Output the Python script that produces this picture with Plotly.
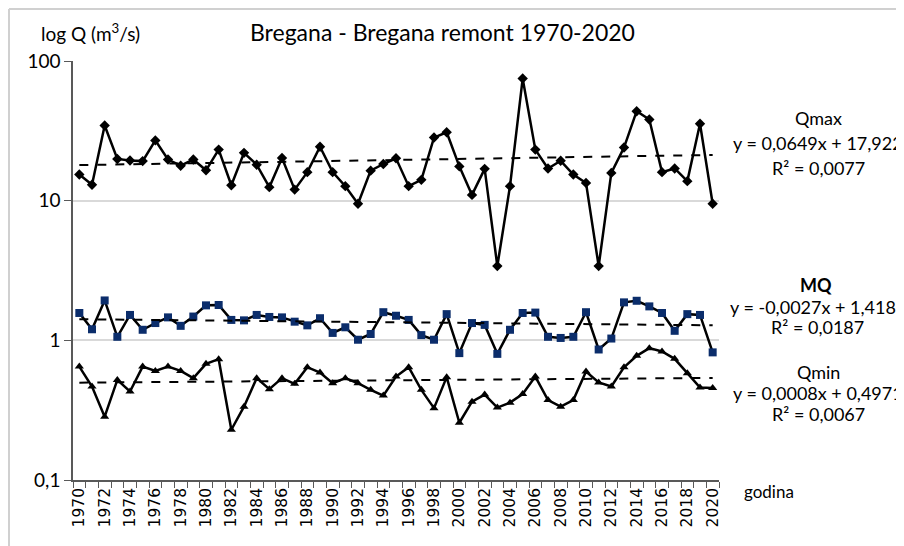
import plotly.graph_objects as go

# Podaci: Bregana - Bregana remont, 1970-2020
godine = list(range(1970, 2021))

q_max = [15.4, 13.0, 34.5, 19.9, 19.4, 19.2, 27.0, 19.7, 17.8, 19.7,
         16.5, 23.2, 12.9, 22.0, 18.1, 12.5, 20.2, 12.0, 16.0, 24.3,
         16.0, 12.7, 9.5, 16.4, 18.3, 20.1, 12.7, 14.1, 28.3, 30.9,
         17.6, 11.0, 16.9, 3.4, 12.7, 74.9, 23.2, 17.0, 19.3, 15.4,
         13.4, 3.4, 15.8, 24.0, 43.7, 38.1, 16.0, 17.0, 13.8, 35.5,
         9.5]

mq = [1.57, 1.20, 1.93, 1.06, 1.52, 1.19, 1.33, 1.46, 1.27, 1.48,
      1.78, 1.79, 1.40, 1.39, 1.52, 1.47, 1.46, 1.36, 1.28, 1.44,
      1.13, 1.24, 1.01, 1.11, 1.59, 1.50, 1.40, 1.09, 1.01, 1.54,
      0.81, 1.33, 1.29, 0.80, 1.19, 1.57, 1.58, 1.06, 1.04, 1.06,
      1.59, 0.86, 1.03, 1.87, 1.92, 1.75, 1.57, 1.17, 1.54, 1.52,
      0.82]

q_min = [0.649, 0.467, 0.284, 0.521, 0.430, 0.649, 0.604, 0.649, 0.604, 0.536,
         0.679, 0.733, 0.229, 0.335, 0.536, 0.447, 0.536, 0.488, 0.642, 0.588,
         0.493, 0.536, 0.493, 0.442, 0.402, 0.550, 0.642, 0.442, 0.327, 0.545,
         0.257, 0.364, 0.409, 0.330, 0.358, 0.413, 0.550, 0.374, 0.335, 0.374,
         0.598, 0.499, 0.467, 0.642, 0.774, 0.879, 0.832, 0.737, 0.582, 0.459,
         0.455]

# Linearni trend (Excel): y = a*x + b, x = 1..51
trend_qmax = (0.0649, 17.922)
trend_mq = (-0.0027, 1.4188)
trend_qmin = (0.0008, 0.4971)

y_tick_vals = [0.1, 1, 10, 100]
y_tick_text = ["0,1", "1", "10", "100"]
x_tick_vals = godine[::2]
x_tick_text = [str(g) for g in x_tick_vals]

# stranica ima 8 px margine, pa je graf pomaknut
OFF = 8
W, H = 904 - OFF, 546 - OFF
L, R, T, B = 73 - OFF, 719 - OFF, 61 - OFF, 480 - OFF
NAVY = "#0b2d6b"
TXT = "Lato, Calibri, sans-serif"


def px(x, y):
    """piksel (na stranici) -> paper koordinate"""
    x, y = x - OFF, y - OFF
    return (x - L) / (R - L), (B - y) / (B - T)


def trend(coef):
    a, b = coef
    return [a * (i + 1) + b for i in range(len(godine))]


fig = go.Figure()

fig.add_trace(go.Scatter(
    x=godine, y=q_max, mode="lines+markers", name="Qmax",
    line=dict(color="black", width=2.5),
    marker=dict(symbol="diamond", size=8, color="black"),
))
fig.add_trace(go.Scatter(
    x=godine, y=mq, mode="lines+markers", name="MQ",
    line=dict(color="black", width=2.5),
    marker=dict(symbol="square", size=8, color=NAVY),
))
fig.add_trace(go.Scatter(
    x=godine, y=q_min, mode="lines+markers", name="Qmin",
    line=dict(color="black", width=2.5),
    marker=dict(symbol="triangle-up", size=8, color="black"),
))
for coef in (trend_qmax, trend_mq, trend_qmin):
    fig.add_trace(go.Scatter(
        x=godine, y=trend(coef), mode="lines",
        line=dict(color="black", width=2, dash="dash"),
        hoverinfo="skip",
    ))

# tekstovi
annotations = []


def add_text(text, x, y, size=18, bold=False, xanchor="center"):
    ax, ay = px(x, y)
    if bold:
        text = "<b>" + text + "</b>"
    annotations.append(dict(
        text=text, x=ax, y=ay, xref="paper", yref="paper",
        xanchor=xanchor, yanchor="middle", showarrow=False,
        font=dict(family=TXT, size=size, color="black"),
    ))


add_text("Bregana - Bregana remont 1970-2020", 443, 32, size=23)
add_text("log Q (m<sup>3</sup>/s)", 39, 32, size=19, xanchor="left")
add_text("godina", 769, 492, size=17)

add_text("Qmax", 818, 118)
add_text("y = 0,0649x + 17,922", 818, 143)
add_text("R² = 0,0077", 818, 168)
add_text("MQ", 816, 285, bold=True)
add_text("y = -0,0027x + 1,4188", 818, 307)
add_text("R² = 0,0187", 817, 327)
add_text("Qmin", 818, 372)
add_text("y = 0,0008x + 0,4971", 818, 393)
add_text("R² = 0,0067", 818, 414)

# okvir grafikona
x0, y0 = px(OFF + 1, OFF + 1)
x1, _ = px(904, OFF + 1)
_, y1 = px(OFF + 1, 546)
shapes = [
    dict(type="line", xref="paper", yref="paper", x0=x0, y0=y0, x1=x1, y1=y0,
         line=dict(color="#d0d0d0", width=2)),
    dict(type="line", xref="paper", yref="paper", x0=x0, y0=y0, x1=x0, y1=y1,
         line=dict(color="#d0d0d0", width=2)),
]

fig.update_layout(
    width=W, height=H,
    margin=dict(l=L, r=W - R, t=T, b=H - B),
    paper_bgcolor="white", plot_bgcolor="white",
    showlegend=False,
    annotations=annotations,
    shapes=shapes,
    xaxis=dict(
        range=[1969.5, 2020.5],
        tickmode="array", tickvals=x_tick_vals, ticktext=x_tick_text,
        tickangle=-90, ticks="",
        tickfont=dict(family="DejaVu Sans", size=15.5, color="black"),
        showgrid=False, zeroline=False,
        showline=True, linecolor="#595959", linewidth=1.5,
        minor=dict(tickmode="linear", tick0=1969.5, dtick=1,
                   ticks="outside", ticklen=6, tickcolor="#595959",
                   showgrid=False),
    ),
    yaxis=dict(
        type="log", range=[-1, 2],
        tickmode="array", tickvals=y_tick_vals, ticktext=y_tick_text,
        ticks="outside", ticklen=7, tickcolor="#595959",
        tickfont=dict(family=TXT, size=19, color="black"),
        showgrid=True, gridcolor="#d9d9d9", gridwidth=1.5,
        zeroline=False,
        showline=True, linecolor="#595959", linewidth=1.5,
    ),
)

fig.write_html("out.html")
